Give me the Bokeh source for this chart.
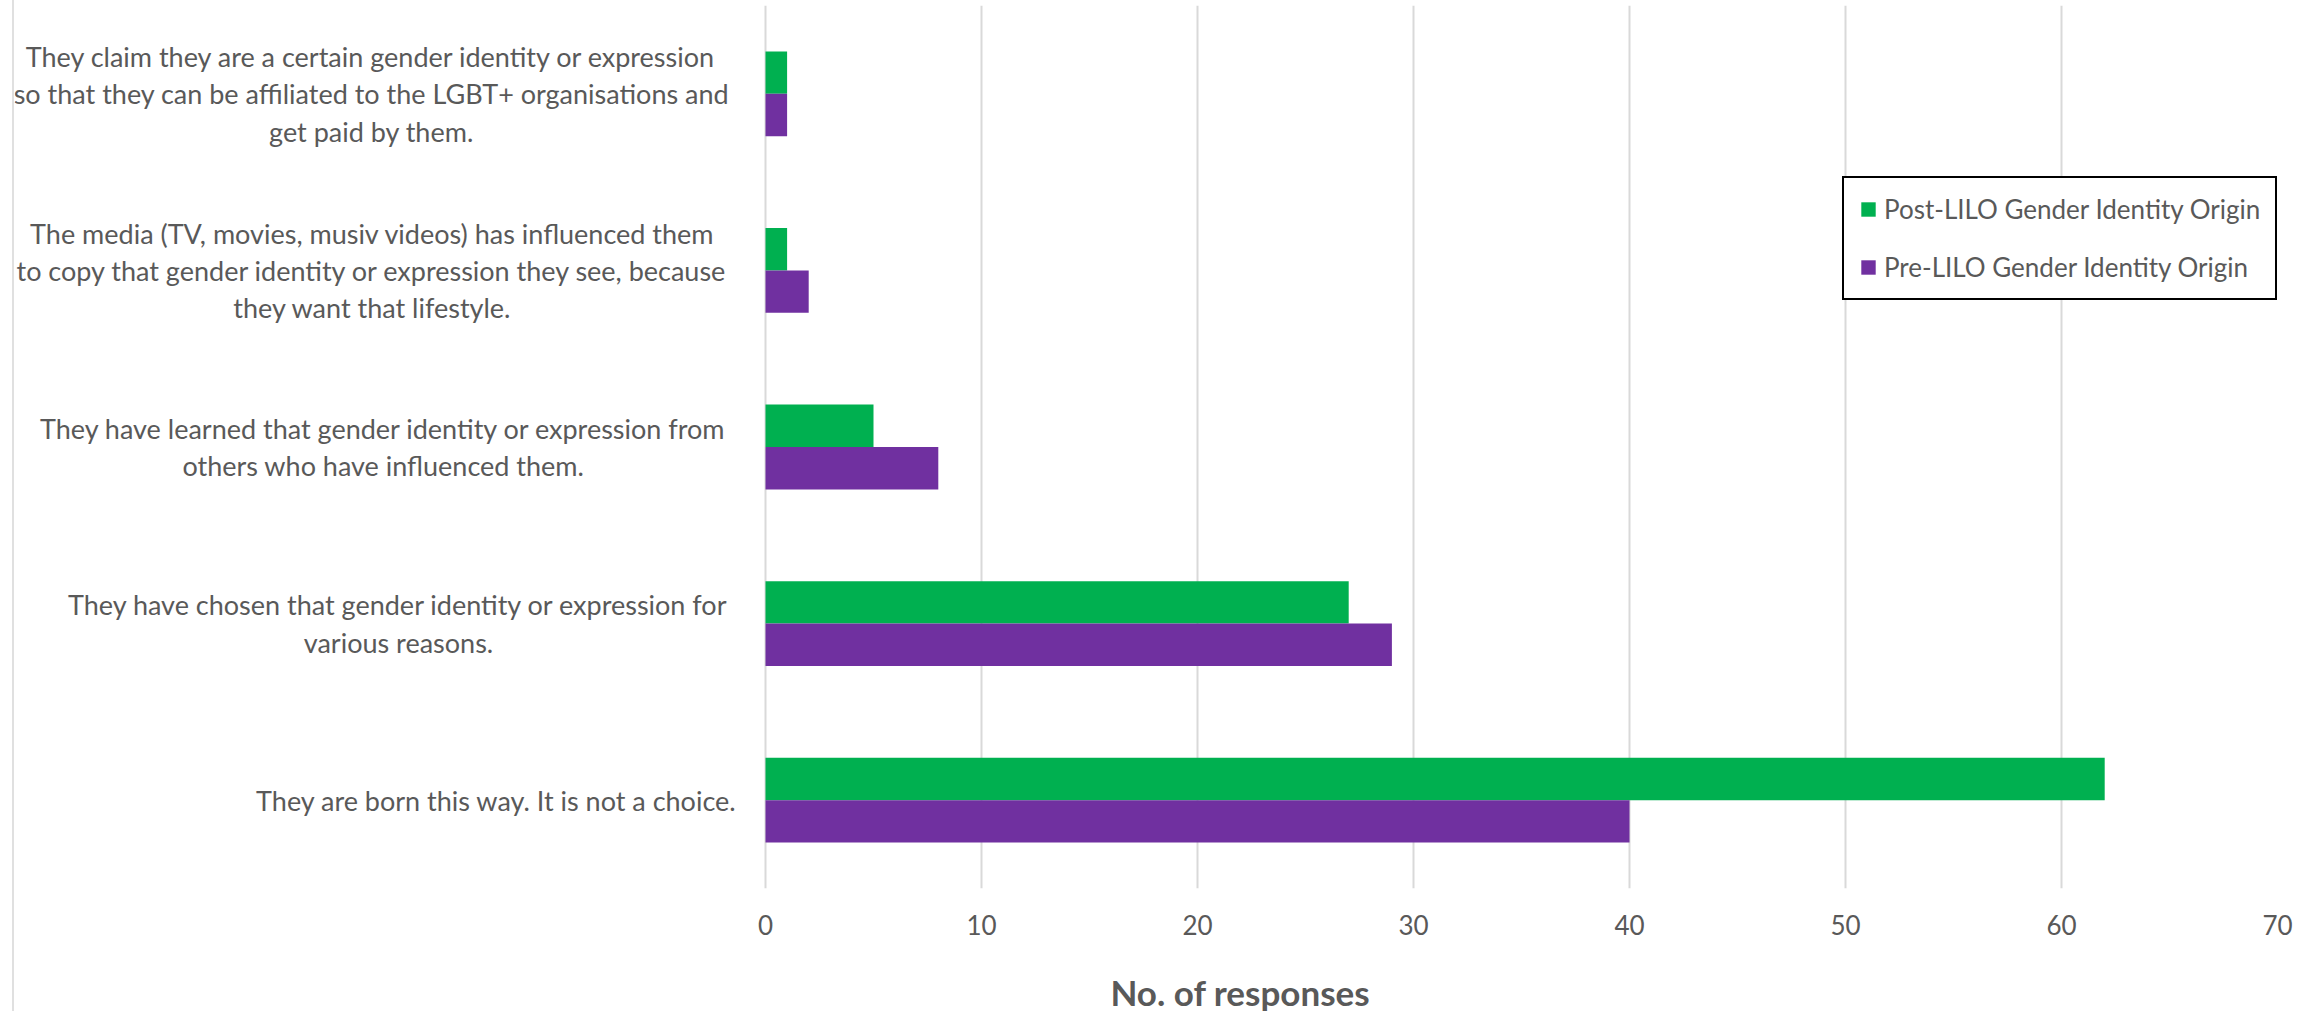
from bokeh.plotting import figure
from bokeh.models import (ColumnDataSource, FactorRange, Range1d, FixedTicker,
                          Legend, LegendItem, Div)
from bokeh.layouts import column
from bokeh.transform import dodge
from bokeh.core.properties import value
from bokeh.embed import file_html
from bokeh.resources import INLINE

# ---------------- data ----------------
categories = [
    "They are born this way. It is not a choice.",
    "They have chosen that gender identity or expression for\nvarious reasons.",
    "They have learned that gender identity or expression from\nothers who have influenced them.",
    "The media (TV, movies, musiv videos) has influenced them\nto copy that gender identity or expression they see, because\nthey want that lifestyle.",
    "They claim they are a certain gender identity or expression\nso that they can be affiliated to the LGBT+ organisations and\nget paid by them.",
]
post_lilo = [62, 27, 5, 1, 1]
pre_lilo = [40, 29, 8, 2, 1]
x_ticks = [0, 10, 20, 30, 40, 50, 60, 70]
series_names = ["Post-LILO Gender Identity Origin", "Pre-LILO Gender Identity Origin"]
axis_title = "No. of responses"

# ---------------- layout / style ----------------
GREEN = "#00B050"
PURPLE = "#7030A0"
TEXT = "#595959"
GRID = "#D9D9D9"
FONT = "Lato"

OUTER_MARGIN_LEFT = 12       # css margin to place the chart-area border line
BORDER_W = 2
FRAME_LEFT = OUTER_MARGIN_LEFT + BORDER_W
ZERO_PX = 765                # screen x of value 0
MAX_PX = 2277                # screen x of value 70
px_per_unit = (MAX_PX - ZERO_PX) / (x_ticks[-1] - x_ticks[0])
x_start = x_ticks[0] - (ZERO_PX - FRAME_LEFT) / px_per_unit

# centre (screen x) of each label block, same order as categories
LABEL_CENTER_PX = [496, 398, 383, 372, 371]
TITLE_CENTER_PX = 1240
TITLE_BOX_W = 600
TITLE_BOX_H = 37

MIN_BORDER_RIGHT = 30
FIG_W = MAX_PX - FRAME_LEFT + MIN_BORDER_RIGHT
FRAME_TOP = 5
FRAME_BOTTOM = 888
TOTAL_H = 1011
FIG_H = TOTAL_H - TITLE_BOX_H
MIN_BORDER_BOTTOM = FIG_H - FRAME_BOTTOM

source = ColumnDataSource(dict(
    cat=categories,
    post=post_lilo,
    pre=pre_lilo,
    label=categories,
    dx=[c - ZERO_PX for c in LABEL_CENTER_PX],
))

p = figure(
    width=FIG_W, height=FIG_H,
    y_range=FactorRange(factors=categories, range_padding=0),
    x_range=Range1d(x_start, x_ticks[-1]),
    output_backend="svg", toolbar_location=None,
    min_border_left=0, min_border_top=FRAME_TOP,
    min_border_right=MIN_BORDER_RIGHT, min_border_bottom=MIN_BORDER_BOTTOM,
)
p.outline_line_color = None
p.background_fill_color = "white"
p.border_fill_color = "white"

BAR_H = 0.24
r_post = p.hbar(y=dodge("cat", BAR_H / 2, range=p.y_range), left=0, right="post",
                height=BAR_H, source=source, fill_color=GREEN, line_color=None)
r_pre = p.hbar(y=dodge("cat", -BAR_H / 2, range=p.y_range), left=0, right="pre",
               height=BAR_H, source=source, fill_color=PURPLE, line_color=None)

# category labels (centred multi-line blocks to the left of the bars)
p.text(x=0, y="cat", text="label", x_offset="dx", source=source,
       text_align="center", text_baseline="middle",
       text_font=value(FONT), text_font_size="27px", text_color=TEXT,
       text_line_height=1.13)

# axes and grid
p.yaxis.visible = False
p.ygrid.visible = False
p.xgrid.ticker = FixedTicker(ticks=x_ticks)
p.xgrid.grid_line_color = GRID
p.xgrid.grid_line_width = 2
xa = p.xaxis[0]
xa.ticker = FixedTicker(ticks=x_ticks)
xa.axis_line_color = None
xa.major_tick_line_color = None
xa.minor_tick_line_color = None
xa.major_tick_out = 0
xa.major_tick_in = 0
xa.minor_tick_out = 0
xa.minor_tick_in = 0
xa.major_label_standoff = 26
xa.major_label_text_font = FONT
xa.major_label_text_font_size = "26px"
xa.major_label_text_color = TEXT

legend = Legend(
    items=[LegendItem(label=series_names[0], renderers=[r_post]),
           LegendItem(label=series_names[1], renderers=[r_pre])],
    location=(1842 - FRAME_LEFT, FRAME_BOTTOM - 300),
    border_line_color="black", border_line_width=2, border_line_alpha=1,
    background_fill_color="white", background_fill_alpha=1,
    padding=15, spacing=26, margin=0,
    glyph_width=18, glyph_height=18, label_standoff=7,
    label_text_font=FONT, label_text_font_size="26px", label_text_color=TEXT,
    label_width=375,
)
p.add_layout(legend)

title = Div(
    text=axis_title, width=TITLE_BOX_W, height=TITLE_BOX_H,
    margin=(0, 0, 0, TITLE_CENTER_PX - TITLE_BOX_W // 2 - FRAME_LEFT),
    styles={"font-family": FONT, "font-weight": "bold", "font-size": "35px",
            "color": TEXT, "text-align": "center",
            "line-height": f"{TITLE_BOX_H}px", "white-space": "nowrap"},
)

layout = column(p, title, spacing=0)
layout.margin = (0, 0, 0, OUTER_MARGIN_LEFT)
layout.styles = {"border-left": f"{BORDER_W}px solid #E0E0E0"}

open("out.html", "w").write(file_html(layout, INLINE))
